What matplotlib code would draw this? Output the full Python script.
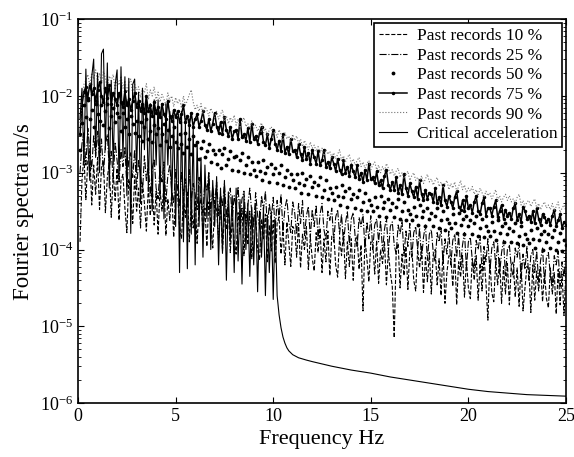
import numpy as np
import matplotlib
matplotlib.use("Agg")
from matplotlib import pyplot as plt
from matplotlib.ticker import LogLocator, NullFormatter, MultipleLocator

plt.rcParams['font.family'] = ['Liberation Serif', 'DejaVu Serif']
plt.rcParams['mathtext.fontset'] = 'stix'

# frequency grid of the past-record spectra, Hz (0.1 .. 25.0)
freq = np.arange(1, 251) / 10.0

# log10 of Fourier amplitude, one row per Hz
p10 = [
    -3.90, -3.10, -2.78, -3.35, -2.84, -2.72, -3.42, -2.90, -3.28, -2.80,
    -3.48, -2.92, -2.84, -3.52, -3.06, -2.88, -3.58, -3.00, -3.36, -2.94,
    -3.62, -3.10, -3.02, -3.46, -3.78, -3.08, -3.30, -3.66, -3.04, -3.50,
    -3.20, -3.72, -3.12, -3.40, -3.76, -3.18, -3.56, -3.14, -3.68, -3.24,
    -3.80, -3.22, -3.50, -3.16, -3.82, -3.34, -3.62, -3.26, -3.84, -3.30,
    -3.28, -3.70, -3.86, -3.32, -3.58, -3.24, -3.90, -3.40, -3.72, -3.36,
    -3.92, -3.44, -3.34, -3.80, -3.46, -3.96, -3.38, -3.64, -3.98, -3.42,
    -3.48, -3.88, -3.40, -4.02, -3.54, -3.74, -3.44, -4.04, -3.60, -3.90,
    -4.06, -3.52, -3.80, -3.46, -4.08, -3.62, -3.94, -3.50, -4.12, -3.58,
    -3.56, -4.00, -4.14, -3.60, -3.86, -3.54, -4.16, -3.68, -4.02, -3.62,
    -4.18, -3.66, -3.58, -4.06, -3.72, -4.20, -3.64, -3.92, -4.22, -3.70,
    -3.74, -4.10, -3.66, -4.24, -3.80, -4.00, -3.70, -4.26, -3.84, -4.12,
    -4.28, -3.78, -4.04, -3.72, -4.30, -3.86, -4.16, -3.76, -4.34, -3.82,
    -3.80, -4.20, -4.36, -3.84, -4.08, -3.78, -4.38, -3.90, -4.22, -3.86,
    -4.40, -3.88, -3.82, -4.26, -3.94, -4.80, -3.86, -4.12, -4.42, -3.90,
    -3.92, -4.32, -3.88, -4.44, -4.00, -4.18, -3.90, -4.46, -4.02, -4.30,
    -4.48, -5.15, -4.04, -3.92, -4.50, -4.06, -4.34, -3.96, -4.52, -4.02,
    -3.98, -4.40, -4.54, -4.00, -4.24, -3.96, -4.56, -4.10, -4.42, -4.04,
    -4.58, -4.06, -4.00, -4.46, -4.12, -4.60, -4.02, -4.70, -4.30, -4.08,
    -4.10, -4.48, -4.06, -4.72, -4.16, -4.36, -4.08, -4.62, -4.14, -4.50,
    -4.64, -4.12, -4.40, -4.08, -4.66, -4.18, -4.54, -4.10, -4.44, -4.92,
    -4.14, -4.56, -4.68, -4.16, -4.46, -4.12, -4.70, -4.22, -4.58, -4.18,
    -4.72, -4.20, -4.16, -4.62, -4.24, -4.74, -4.18, -4.80, -4.50, -4.22,
    -4.26, -4.82, -4.20, -4.66, -4.28, -4.54, -4.22, -4.68, -4.30, -4.64,
    -4.76, -4.24, -4.58, -4.30, -4.84, -4.26, -4.72, -4.32, -4.86, -4.28,
]

p25 = [
    -3.00, -2.62, -2.48, -2.90, -2.42, -2.70, -2.95, -2.52, -2.78, -2.46,
    -2.88, -2.56, -3.02, -2.64, -2.50, -2.96, -2.72, -3.08, -2.60, -2.84,
    -3.12, -2.70, -2.92, -2.66, -3.18, -2.82, -2.74, -3.06, -2.70, -3.22,
    -2.84, -3.02, -3.26, -2.78, -3.10, -2.88, -3.30, -2.94, -2.82, -3.20,
    -3.34, -2.92, -3.12, -2.86, -3.38, -3.04, -2.90, -3.24, -3.40, -2.96,
    -3.20, -3.44, -2.98, -3.30, -3.08, -3.46, -2.96, -3.36, -3.14, -3.28,
    -3.48, -3.06, -3.34, -3.52, -3.10, -3.24, -3.00, -3.50, -3.18, -3.40,
    -3.12, -3.56, -3.28, -3.44, -3.14, -3.58, -3.36, -3.20, -3.60, -3.30,
    -3.46, -3.18, -3.62, -3.34, -3.24, -3.64, -3.42, -3.20, -3.52, -3.68,
    -3.26, -3.56, -3.70, -3.30, -3.48, -3.24, -3.72, -3.40, -3.60, -3.32,
    -3.74, -3.36, -3.58, -3.28, -3.76, -3.46, -3.34, -3.64, -3.78, -3.38,
    -3.52, -3.80, -3.40, -3.66, -3.36, -3.82, -3.56, -3.44, -3.84, -3.48,
    -3.70, -3.42, -3.86, -3.54, -3.40, -3.74, -3.88, -3.50, -3.62, -3.46,
    -3.90, -3.58, -3.48, -3.80, -3.54, -3.92, -3.66, -3.50, -3.94, -3.60,
    -3.52, -3.84, -3.96, -3.58, -3.70, -3.54, -3.98, -3.64, -3.86, -3.56,
    -4.00, -3.68, -3.60, -3.90, -3.62, -4.02, -3.74, -3.58, -4.04, -3.70,
    -3.64, -3.94, -4.06, -3.68, -3.80, -3.62, -4.08, -3.76, -3.96, -3.66,
    -4.10, -3.78, -3.70, -4.00, -3.72, -4.12, -3.84, -3.68, -4.14, -3.80,
    -3.74, -4.04, -4.16, -3.78, -3.90, -3.72, -4.18, -3.86, -4.06, -3.76,
    -4.20, -3.88, -3.80, -4.10, -3.82, -4.22, -3.94, -3.78, -4.24, -3.90,
    -3.84, -4.14, -4.26, -3.88, -4.00, -3.82, -4.28, -3.96, -4.16, -3.86,
    -4.30, -3.98, -3.90, -4.20, -3.92, -4.32, -4.04, -3.88, -4.34, -4.00,
    -3.94, -4.24, -4.36, -3.98, -4.10, -3.92, -4.38, -4.06, -4.26, -3.96,
    -4.40, -4.08, -4.00, -4.30, -4.02, -4.42, -4.14, -3.98, -4.44, -4.10,
    -4.04, -4.34, -4.46, -4.08, -4.20, -4.02, -4.48, -4.16, -4.36, -4.06,
]

p50 = [
    -2.70, -2.35, -2.12, -2.28, -2.05, -2.30, -2.18, -2.40, -2.10, -2.24,
    -2.32, -2.12, -2.38, -2.20, -2.10, -2.42, -2.26, -2.16, -2.34, -2.22,
    -2.28, -2.46, -2.22, -2.40, -2.30, -2.50, -2.26, -2.36, -2.48, -2.32,
    -2.52, -2.34, -2.58, -2.40, -2.30, -2.56, -2.46, -2.60, -2.38, -2.50,
    -2.42, -2.64, -2.50, -2.36, -2.58, -2.44, -2.66, -2.52, -2.40, -2.60,
    -2.68, -2.50, -2.62, -2.74, -2.48, -2.66, -2.56, -2.76, -2.52, -2.64,
    -2.60, -2.82, -2.68, -2.58, -2.80, -2.72, -2.62, -2.86, -2.70, -2.76,
    -2.88, -2.70, -2.94, -2.76, -2.68, -2.90, -2.82, -2.72, -2.96, -2.80,
    -2.78, -2.98, -2.84, -2.74, -3.00, -2.90, -2.80, -3.02, -2.86, -2.96,
    -3.04, -2.86, -2.98, -3.10, -2.84, -3.00, -2.92, -3.12, -2.88, -3.02,
    -2.94, -3.14, -3.00, -2.90, -3.16, -3.06, -2.96, -3.18, -3.02, -3.10,
    -3.20, -3.02, -3.14, -3.26, -3.00, -3.16, -3.08, -3.28, -3.04, -3.18,
    -3.12, -3.30, -3.16, -3.06, -3.32, -3.22, -3.10, -3.34, -3.20, -3.26,
    -3.36, -3.18, -3.30, -3.42, -3.16, -3.32, -3.24, -3.44, -3.20, -3.34,
    -3.28, -3.46, -3.32, -3.22, -3.48, -3.38, -3.26, -3.50, -3.36, -3.42,
    -3.50, -3.32, -3.44, -3.56, -3.30, -3.46, -3.38, -3.58, -3.34, -3.48,
    -3.40, -3.58, -3.44, -3.34, -3.60, -3.50, -3.38, -3.62, -3.48, -3.54,
    -3.62, -3.44, -3.56, -3.68, -3.42, -3.58, -3.50, -3.70, -3.46, -3.60,
    -3.52, -3.70, -3.56, -3.46, -3.72, -3.62, -3.50, -3.74, -3.60, -3.66,
    -3.72, -3.54, -3.66, -3.78, -3.52, -3.68, -3.60, -3.80, -3.56, -3.70,
    -3.62, -3.80, -3.66, -3.56, -3.82, -3.72, -3.60, -3.84, -3.70, -3.76,
    -3.82, -3.64, -3.76, -3.88, -3.62, -3.78, -3.70, -3.90, -3.66, -3.80,
    -3.72, -3.90, -3.76, -3.66, -3.92, -3.82, -3.70, -3.94, -3.80, -3.86,
    -3.92, -3.74, -3.86, -3.98, -3.72, -3.88, -3.80, -4.00, -3.76, -3.90,
    -3.80, -3.98, -3.84, -3.74, -4.00, -3.90, -3.78, -4.02, -3.88, -3.94,
]

p75 = [
    -2.50, -2.12, -1.95, -1.88, -2.02, -1.84, -1.98, -1.90, -2.06, -1.92,
    -1.82, -2.00, -2.08, -1.90, -2.02, -1.86, -2.10, -1.96, -2.04, -2.12,
    -1.96, -2.08, -2.14, -1.94, -2.12, -2.04, -2.18, -2.06, -1.96, -2.14,
    -2.06, -2.20, -2.10, -2.22, -2.00, -2.20, -2.12, -2.26, -2.08, -2.22,
    -2.14, -2.28, -2.10, -2.24, -2.30, -2.06, -2.26, -2.32, -2.18, -2.28,
    -2.20, -2.34, -2.24, -2.12, -2.34, -2.26, -2.38, -2.22, -2.40, -2.30,
    -2.24, -2.40, -2.32, -2.20, -2.38, -2.44, -2.30, -2.46, -2.36, -2.22,
    -2.40, -2.48, -2.34, -2.50, -2.28, -2.44, -2.52, -2.40, -2.56, -2.46,
    -2.44, -2.56, -2.30, -2.54, -2.50, -2.58, -2.42, -2.60, -2.36, -2.56,
    -2.52, -2.62, -2.48, -2.40, -2.60, -2.64, -2.50, -2.68, -2.56, -2.44,
    -2.62, -2.70, -2.58, -2.72, -2.50, -2.74, -2.66, -2.76, -2.56, -2.72,
    -2.70, -2.80, -2.62, -2.76, -2.84, -2.66, -2.82, -2.74, -2.88, -2.70,
    -2.80, -2.88, -2.72, -2.90, -2.84, -2.70, -2.92, -2.86, -2.94, -2.80,
    -2.88, -2.98, -2.82, -2.96, -3.02, -2.84, -3.00, -2.92, -3.04, -2.90,
    -2.98, -3.06, -2.90, -3.08, -3.00, -3.12, -2.96, -3.10, -2.88, -3.08,
    -3.06, -3.14, -2.98, -3.16, -3.10, -3.20, -3.04, -2.96, -3.16, -3.22,
    -3.12, -3.22, -3.06, -3.26, -3.16, -3.28, -3.02, -3.20, -3.30, -3.14,
    -3.24, -3.32, -3.18, -3.34, -3.10, -3.28, -3.36, -3.22, -3.34, -3.26,
    -3.28, -3.38, -3.20, -3.40, -3.32, -3.42, -3.16, -3.36, -3.44, -3.30,
    -3.38, -3.46, -3.32, -3.24, -3.44, -3.48, -3.36, -3.50, -3.30, -3.46,
    -3.42, -3.52, -3.38, -3.30, -3.50, -3.54, -3.40, -3.32, -3.56, -3.46,
    -3.46, -3.56, -3.44, -3.36, -3.58, -3.50, -3.42, -3.60, -3.48, -3.56,
    -3.52, -3.60, -3.46, -3.40, -3.62, -3.54, -3.64, -3.44, -3.50, -3.60,
    -3.56, -3.64, -3.50, -3.66, -3.46, -3.60, -3.68, -3.54, -3.58, -3.64,
    -3.60, -3.68, -3.56, -3.48, -3.70, -3.62, -3.54, -3.72, -3.64, -3.68,
]

p90 = [
    -2.35, -2.05, -1.85, -1.80, -1.72, -1.86, -1.70, -1.78, -1.66, -1.82,
    -1.70, -1.84, -1.68, -1.76, -1.90, -1.74, -1.80, -1.72, -1.92, -1.78,
    -1.86, -1.74, -1.90, -1.80, -1.95, -1.83, -1.78, -1.98, -1.85, -1.92,
    -1.88, -2.02, -1.90, -1.96, -1.84, -2.05, -1.92, -2.00, -1.88, -2.06,
    -1.95, -2.08, -1.98, -2.04, -2.12, -1.96, -2.06, -2.00, -2.14, -2.02,
    -2.10, -2.04, -2.16, -2.00, -2.12, -2.06, -1.98, -1.92, -2.08, -2.18,
    -2.12, -2.20, -2.10, -2.24, -2.14, -2.18, -2.26, -2.16, -2.22, -2.28,
    -2.20, -2.30, -2.24, -2.18, -2.32, -2.26, -2.36, -2.28, -2.34, -2.25,
    -2.38, -2.30, -2.42, -2.34, -2.28, -2.40, -2.36, -2.44, -2.32, -2.42,
    -2.38, -2.46, -2.40, -2.35, -2.48, -2.42, -2.52, -2.44, -2.40, -2.50,
    -2.46, -2.54, -2.44, -2.50, -2.58, -2.48, -2.56, -2.52, -2.60, -2.50,
    -2.58, -2.52, -2.62, -2.56, -2.66, -2.58, -2.64, -2.70, -2.60, -2.68,
    -2.64, -2.72, -2.66, -2.74, -2.68, -2.78, -2.70, -2.76, -2.72, -2.80,
    -2.74, -2.82, -2.76, -2.70, -2.84, -2.78, -2.86, -2.80, -2.76, -2.88,
    -2.82, -2.90, -2.84, -2.80, -2.92, -2.86, -2.94, -2.88, -2.84, -2.96,
    -2.90, -2.86, -2.96, -2.90, -3.00, -2.92, -2.98, -2.88, -2.94, -3.02,
    -2.96, -3.04, -2.98, -2.94, -3.06, -3.00, -3.08, -3.02, -2.98, -3.10,
    -3.04, -3.00, -3.10, -3.06, -3.12, -3.04, -3.14, -3.08, -3.02, -3.12,
    -3.08, -3.16, -3.10, -3.06, -3.18, -3.12, -3.20, -3.14, -3.10, -3.22,
    -3.14, -3.20, -3.12, -3.24, -3.18, -3.10, -3.22, -3.16, -3.26, -3.20,
    -3.24, -3.18, -3.28, -3.22, -3.30, -3.20, -3.26, -3.32, -3.24, -3.30,
    -3.26, -3.34, -3.28, -3.22, -3.36, -3.30, -3.38, -3.32, -3.28, -3.36,
    -3.30, -3.38, -3.34, -3.40, -3.32, -3.28, -3.42, -3.36, -3.44, -3.38,
    -3.36, -3.44, -3.38, -3.34, -3.46, -3.40, -3.48, -3.42, -3.38, -3.46,
    -3.42, -3.48, -3.40, -3.50, -3.44, -3.38, -3.52, -3.46, -3.42, -3.50,
]

# critical acceleration: jagged part 0.1 .. 10.2 Hz, then smooth tail
crit_freq_low = np.arange(1, 103) / 10.0
crit_low = [
    -2.30, -1.90, -2.90, -1.65, -2.60, -3.10, -1.75, -1.52, -2.80, -1.70,
    -3.00, -1.45, -1.39, -2.70, -1.57, -3.20, -1.80, -2.90, -1.85, -1.66,
    -3.10, -1.62, -2.80, -1.75, -3.30, -1.77, -3.79, -1.85, -1.78, -3.00,
    -1.95, -3.40, -1.90, -2.70, -2.00, -3.20, -2.10, -3.50, -2.05, -2.90,
    -2.05, -3.30, -2.15, -3.60, -2.10, -2.90, -2.20, -3.40, -2.25, -3.70,
    -2.30, -4.30, -2.20, -3.90, -2.35, -4.25, -2.30, -3.80, -2.40, -4.20,
    -2.60, -3.70, -2.80, -4.10, -2.90, -3.60, -3.00, -4.00, -3.10, -3.70,
    -3.05, -4.20, -3.20, -4.05, -3.10, -4.40, -3.25, -3.90, -3.30, -4.30,
    -3.20, -4.15, -3.35, -4.45, -3.30, -4.00, -3.40, -4.35, -3.45, -4.20,
    -3.40, -4.55, -3.50, -4.10, -3.45, -4.60, -3.55, -4.30, -3.50, -4.65,
    -3.60, -4.60,
]
crit_freq_tail = [10.3, 10.4, 10.5, 10.6, 10.7, 10.8, 11.0, 11.3, 11.7, 12.0,
                  13.0, 14.0, 15.0, 16.0, 17.0, 18.0, 19.0, 20.0, 21.0, 22.0,
                  23.0, 24.0, 25.0]
crit_tail = [-4.85, -5.02, -5.14, -5.22, -5.28, -5.32, -5.37, -5.41, -5.44, -5.46,
             -5.52, -5.57, -5.61, -5.66, -5.70, -5.74, -5.78, -5.82, -5.85, -5.87,
             -5.89, -5.90, -5.91]

labels = ["Past records 10 %", "Past records 25 %", "Past records 50 %",
          "Past records 75 %", "Past records 90 %", "Critical acceleration"]

fig = plt.figure(figsize=(5.74, 4.57), dpi=100)
ax = fig.add_axes([0.136, 0.118, 0.850, 0.840])

ax.semilogy(freq, 10.0 ** np.array(p10), 'k--', lw=0.8, label=labels[0])
ax.semilogy(freq, 10.0 ** np.array(p25), 'k-.', lw=0.8, label=labels[1])
ax.semilogy(freq, 10.0 ** np.array(p50), 'k.', ms=3.5, label=labels[2])
ax.semilogy(freq, 10.0 ** np.array(p75), 'k.-', lw=1.1, ms=3, label=labels[3])
ax.semilogy(freq, 10.0 ** np.array(p90), ':', color='0.45', lw=0.8, label=labels[4])
crit_f = np.concatenate([crit_freq_low, crit_freq_tail])
crit_v = np.concatenate([crit_low, crit_tail])
ax.semilogy(crit_f, 10.0 ** crit_v, 'k-', lw=0.8, label=labels[5])

ax.set_xlim(0, 25)
ax.set_ylim(1e-6, 1e-1)
ax.xaxis.set_major_locator(MultipleLocator(5))
ax.yaxis.set_major_locator(LogLocator(base=10, numticks=10))
ax.yaxis.set_minor_locator(LogLocator(base=10, subs=np.arange(2, 10), numticks=20))
ax.yaxis.set_minor_formatter(NullFormatter())
ax.tick_params(which='both', direction='in', top=True, right=True, labelsize=13)
ax.tick_params(which='major', length=4.5, width=0.8)
ax.tick_params(which='minor', length=2.2, width=0.6)
for s in ax.spines.values():
    s.set_linewidth(1.2)

ax.set_xlabel("Frequency Hz", fontsize=16)
ax.set_ylabel("Fourier spectra m/s", fontsize=16.5)

leg = ax.legend(loc='upper right', fontsize=12.5, frameon=True, fancybox=False,
                edgecolor='black', framealpha=1, borderaxespad=0.2,
                handlelength=1.6, labelspacing=0.2, borderpad=0.3,
                handletextpad=0.55)
leg.get_frame().set_linewidth(1.2)

fig.savefig("out.png", dpi=100)
